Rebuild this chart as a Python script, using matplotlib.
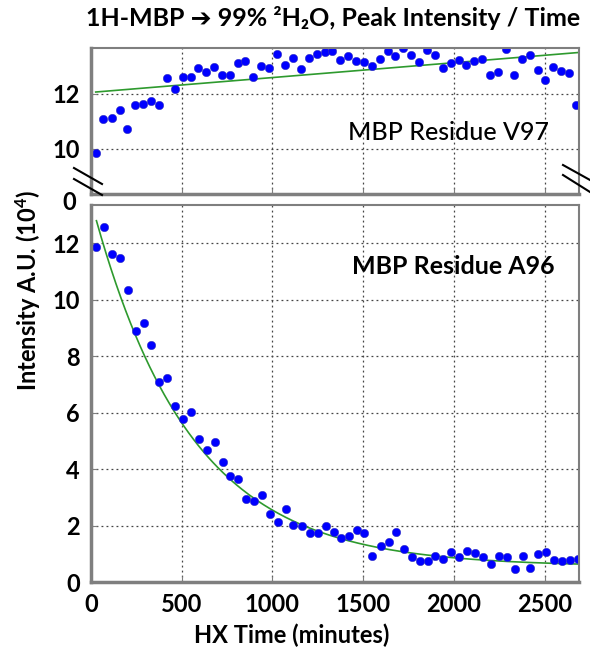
import numpy as np
import matplotlib
matplotlib.use("Agg")
import matplotlib.pyplot as plt
from matplotlib.lines import Line2D

plt.rcParams['font.family'] = ['Lato', 'DejaVu Sans']
plt.rcParams['font.weight'] = 'bold'
plt.rcParams['mathtext.fontset'] = 'custom'
plt.rcParams['mathtext.rm'] = 'Lato:bold'

# HX time (minutes) and intensity (10^4) for V97 (top) and A96 (bottom)
v97_time = [26, 68, 114, 160, 201, 245, 288, 330, 374, 419, 462, 505, 549, 592, 636,
            680, 723, 764, 808, 850, 894, 938, 982, 1026, 1068, 1112, 1158, 1201, 1246,
            1290, 1331, 1374, 1418, 1462, 1505, 1548, 1592, 1637, 1677, 1720, 1765, 1806,
            1850, 1896, 1938, 1982, 2026, 2068, 2112, 2156, 2202, 2246, 2287, 2334, 2374,
            2418, 2462, 2505, 2549, 2592, 2634, 2672]
v97_int = [9.85, 11.07, 11.12, 11.41, 10.73, 11.59, 11.62, 11.73, 11.58, 12.59, 12.17,
           12.62, 12.62, 12.93, 12.78, 12.97, 12.67, 12.67, 13.12, 13.21, 12.62, 13.03,
           12.96, 13.44, 13.05, 13.30, 12.92, 13.30, 13.44, 13.54, 13.56, 13.24, 13.38,
           13.21, 13.15, 13.03, 13.26, 13.56, 13.38, 13.66, 13.42, 13.17, 13.59, 13.42,
           12.96, 13.12, 13.24, 13.04, 13.21, 13.26, 12.69, 12.78, 13.62, 12.70, 13.26,
           13.41, 12.87, 12.50, 12.98, 12.82, 12.76, 11.59]

a96_time = [27, 71, 115, 161, 205, 249, 293, 333, 377, 421, 465, 509, 553, 597, 639,
            681, 725, 767, 811, 853, 897, 941, 985, 1029, 1073, 1115, 1161, 1205, 1249,
            1293, 1337, 1377, 1423, 1465, 1507, 1551, 1597, 1641, 1683, 1727, 1769, 1811,
            1855, 1897, 1941, 1985, 2027, 2071, 2115, 2159, 2205, 2249, 2293, 2335, 2379,
            2421, 2465, 2509, 2553, 2595, 2639, 2683]
a96_int = [11.87, 12.57, 11.62, 11.49, 10.35, 8.89, 9.17, 8.41, 7.09, 7.22, 6.23, 5.76,
           6.02, 5.06, 4.69, 4.96, 4.24, 3.77, 3.65, 2.93, 2.87, 3.07, 2.40, 2.13, 2.57,
           2.01, 1.99, 1.74, 1.74, 1.98, 1.78, 1.55, 1.62, 1.85, 1.74, 0.93, 1.26, 1.42,
           1.76, 1.18, 0.90, 0.75, 0.73, 0.93, 0.81, 1.08, 0.90, 1.09, 1.03, 0.89, 0.65,
           0.93, 0.88, 0.45, 0.92, 0.49, 0.99, 1.08, 0.79, 0.74, 0.79, 0.81]

# fit lines
lin_a, lin_b = 12.055, 0.00054          # V97: a + b*t
exp_A, exp_k, exp_C = 12.95, 0.00187, 0.55   # A96: A*exp(-k t) + C

W, H = 590, 651
fig = plt.figure(figsize=(W / 100, H / 100), dpi=100)

def px_axes(l, t, r, b):
    return fig.add_axes([l / W, 1 - b / H, (r - l) / W, (b - t) / H])

ax1 = px_axes(91, 48, 579, 194)
ax2 = px_axes(91, 205, 579, 582)

spine_col = '#7f7f7f'
for ax in (ax1, ax2):
    ax.set_xlim(0, 2690)
    ax.set_xticks([0, 500, 1000, 1500, 2000, 2500])
    ax.grid(True, linestyle=(0, (1.5, 2.5)), color='#444444', linewidth=0.9)
    for s in ax.spines.values():
        s.set_color(spine_col)
        s.set_linewidth(1.5)
    ax.spines['left'].set_linewidth(2.5)
    ax.spines['bottom'].set_linewidth(2.5)
    ax.tick_params(direction='in', length=4, color=spine_col, labelsize=17, pad=8)
    ax.set_axisbelow(True)

ax1.set_ylim(8.36, 13.67)
ax1.set_yticks([10, 12])
ax1.tick_params(labelbottom=False)
t1 = np.linspace(v97_time[0], 2690, 50)
ax1.plot(t1, lin_a + lin_b * t1, color='#2e9a2e', lw=1.2)
ax1.plot(v97_time, v97_int, 'o', color='#0000ff', ms=6, mec='#3030c0', mew=0.4)
fig.text(448 / W, 1 - 132 / H, 'MBP Residue V97', ha='center', va='center',
         fontsize=18, fontweight='medium')

ax2.set_ylim(0, 13.35)
ax2.set_yticks([0, 2, 4, 6, 8, 10, 12])
t2 = np.linspace(30, 2690, 200)
ax2.plot(t2, exp_A * np.exp(-exp_k * t2) + exp_C, color='#2e9a2e', lw=1.2)
ax2.plot(a96_time, a96_int, 'o', color='#0000ff', ms=6, mec='#3030c0', mew=0.4)
fig.text(453 / W, 1 - 266 / H, 'MBP Residue A96', ha='center', va='center',
         fontsize=18, fontweight='bold')

fig.text(292 / W, 1 - 635 / H, 'HX Time (minutes)', ha='center', va='center',
         fontsize=17, fontweight='bold')
fig.text(76 / W, 1 - 203 / H, '0', ha='right', va='center', fontsize=17)
fig.text(28 / W, 1 - 290 / H, r'Intensity A.U. (10$\mathregular{^4}$)', rotation=90,
         ha='center', va='center', fontsize=17, fontweight='bold')
fig.text(333 / W, 1 - 18 / H,
         '1H-MBP ➔ 99% ²H₂O, Peak Intensity / Time',
         ha='center', va='center', fontsize=18, fontweight='bold')

# axis-break marks
for (x0, y0, x1, y1) in [(74, 168, 102, 184), (74, 179, 102, 195),
                         (563, 165, 590, 180), (563, 175, 590, 192)]:
    fig.add_artist(Line2D([x0 / W, x1 / W], [1 - y0 / H, 1 - y1 / H],
                          color='black', lw=1.5, transform=fig.transFigure))

fig.savefig('out.png', dpi=100)
